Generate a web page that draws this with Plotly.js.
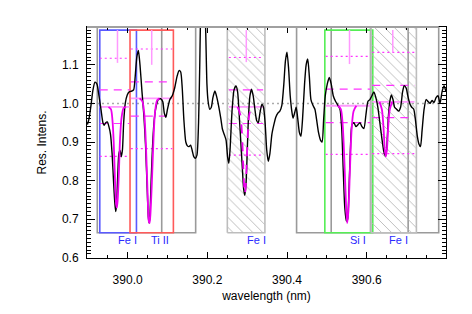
<!DOCTYPE html>
<html><head><meta charset="utf-8">
<script src="https://cdn.plot.ly/plotly-3.0.1.min.js"></script>
<style>html,body{margin:0;padding:0;background:#fff}</style>
</head><body><div id="chart" style="width:472px;height:314px"></div>
<script>
// ---------- observed spectrum ----------
const specWave = [389.899,389.903,389.908,389.913,389.918,389.923,389.928,389.933,389.938,389.941,389.945,389.949,389.953,389.957,389.961,389.965,389.968,389.970,389.972,389.975,389.978,389.981,389.984,389.987,389.990,389.994,389.999,390.004,390.010,390.015,390.019,390.023,390.027,390.031,390.036,390.041,390.045,390.049,390.052,390.054,390.056,390.059,390.063,390.067,390.071,390.077,390.083,390.088,390.092,390.096,390.100,390.106,390.112,390.118,390.124,390.129,390.133,390.137,390.141,390.146,390.150,390.154,390.158,390.162,390.166,390.170,390.174,390.178,390.181,390.184,390.190,390.195,390.199,390.202,390.206,390.210,390.214,390.219,390.224,390.229,390.234,390.238,390.243,390.247,390.251,390.254,390.257,390.262,390.267,390.272,390.276,390.280,390.284,390.288,390.291,390.294,390.297,390.300,390.303,390.307,390.311,390.315,390.320,390.324,390.328,390.332,390.337,390.341,390.345,390.349,390.353,390.357,390.362,390.367,390.372,390.377,390.382,390.387,390.392,390.396,390.400,390.404,390.408,390.412,390.415,390.419,390.423,390.427,390.431,390.435,390.439,390.444,390.448,390.452,390.456,390.460,390.465,390.470,390.474,390.479,390.484,390.488,390.492,390.496,390.501,390.506,390.511,390.516,390.522,390.528,390.533,390.537,390.541,390.545,390.549,390.552,390.555,390.559,390.563,390.568,390.573,390.578,390.583,390.588,390.593,390.598,390.603,390.608,390.613,390.618,390.623,390.628,390.633,390.638,390.643,390.647,390.650,390.654,390.658,390.662,390.666,390.670,390.675,390.680,390.685,390.690,390.694,390.699,390.703,390.708,390.713,390.718,390.722,390.727,390.731,390.735,390.739,390.744,390.749,390.754,390.759,390.764,390.769,390.774,390.779,390.784,390.789,390.794,390.799];
const specFlux = [0.945,0.960,0.995,1.035,1.055,1.050,1.020,0.985,0.950,0.943,0.950,0.952,0.940,0.920,0.870,0.790,0.740,0.720,0.735,0.810,0.870,0.878,0.862,0.880,0.950,1.000,1.022,1.030,1.032,1.035,1.070,1.120,1.137,1.100,1.030,0.965,0.890,0.780,0.705,0.690,0.710,0.800,0.900,0.960,0.990,1.010,1.012,1.005,0.975,0.964,0.985,1.010,1.020,1.040,1.070,1.085,1.082,1.040,0.960,0.900,0.890,0.888,0.892,0.878,0.862,0.858,0.866,0.950,1.100,1.250,1.300,1.220,1.050,1.005,0.985,0.990,1.015,1.032,1.015,0.990,0.960,0.933,0.918,0.905,0.860,0.845,0.880,0.980,1.035,1.045,1.030,0.970,0.900,0.830,0.780,0.762,0.790,0.870,0.960,1.020,1.037,1.020,0.980,0.955,0.950,0.975,0.998,0.990,0.950,0.880,0.850,0.870,0.920,0.945,0.965,0.975,0.980,0.995,1.050,1.110,1.133,1.090,1.020,0.980,0.962,0.975,0.990,0.960,0.925,0.915,0.960,1.050,1.100,1.115,1.070,1.010,0.995,0.985,0.960,0.925,0.905,0.900,0.960,1.020,1.050,1.067,1.050,1.020,1.005,0.995,0.985,0.940,0.830,0.730,0.695,0.700,0.760,0.880,0.945,0.950,0.940,0.945,0.950,0.940,0.935,0.970,1.005,1.010,1.020,1.030,1.015,0.990,0.950,0.910,0.875,0.863,0.880,0.960,1.005,1.022,1.010,0.990,0.985,0.980,0.990,1.030,1.046,1.040,1.020,1.000,0.990,0.985,0.960,0.915,0.895,0.888,0.930,0.985,1.010,1.005,1.000,1.008,1.002,1.015,1.020,1.000,1.030,1.046,1.030];

// ---------- lines ----------
const lineNames   = ['Fe I','Ti II','Fe I','Si I','Fe I'];
const labelX      = [389.9700,390.0530,390.2950,390.5530,390.6500];
const markerX     = [389.9745,390.0604,390.2978,390.5568,390.6654];
const markerBot   = [1.105,1.100,1.107,1.102,1.132];
const levelX0     = [389.930,390.008,390.254,390.497,390.614];
const levelX1     = [390.005,390.112,390.340,390.609,390.720];
const levelDotHi  = [1.117,1.141,1.119,1.122,1.132];
const levelDashHi = [1.035,1.056,1.035,1.037,1.047];
const levelCont   = [0.991,1.013,0.991,0.994,1.004];
const levelDashLo = [0.948,0.967,0.948,0.950,0.963];
const levelDotLo  = [0.863,0.883,0.866,0.868,0.870];

// synthetic profiles
const profWave = [
  [389.952,389.958,389.962,389.965,389.968,389.971,389.973,389.975,389.978,389.981,389.985,389.990,389.996],
  [390.030,390.037,390.042,390.046,390.050,390.053,390.055,390.057,390.061,390.065,390.069,390.074,390.080],
  [390.276,390.283,390.287,390.290,390.293,390.294,390.296,390.299,390.302,390.306,390.313],
  [390.528,390.535,390.540,390.544,390.548,390.551,390.554,390.558,390.562,390.567,390.574],
  [390.632,390.638,390.642,390.645,390.648,390.651,390.654,390.658,390.664]
];
const profFlux = [
  [0.991,0.985,0.955,0.900,0.810,0.740,0.730,0.750,0.820,0.910,0.965,0.988,0.991],
  [1.013,1.005,0.970,0.890,0.770,0.695,0.690,0.710,0.800,0.910,0.980,1.008,1.013],
  [0.991,0.970,0.920,0.840,0.775,0.765,0.780,0.850,0.930,0.975,0.991],
  [0.994,0.985,0.940,0.850,0.740,0.690,0.720,0.830,0.930,0.980,0.994],
  [1.004,0.985,0.940,0.885,0.862,0.885,0.940,0.985,1.004]
];
const profDash = ['solid','solid','dash','solid','solid'];

// boxes
const boxBottom = 0.665;
const boxTop = 1.19;
const yTop = 1.198;
const colorBoxX0 = [389.9301,390.0060,390.4949];
const colorBoxX1 = [390.0221,390.1148,390.6152];
const colorBoxCol = ['#5a5aff','#ff5a5a','#55ee55'];
const grayBoxX0 = [389.9238,390.4240];
const grayBoxX1 = [390.1707,390.7807];
const grayLineX = [390.0855,390.5109,390.6095,390.7040];
const hatchX0 = [390.2502,390.6110];
const hatchX1 = [390.3445,390.7247];

const traces = [];
const shapes = [];
const annotations = [];

for (let i=0;i<grayBoxX0.length;i++){
  shapes.push({type:'rect',xref:'x',yref:'y',x0:grayBoxX0[i],x1:grayBoxX1[i],y0:boxBottom,y1:yTop,
    line:{color:'#9a9a9a',width:1.6},fillcolor:'rgba(0,0,0,0)',layer:'below'});
}
for (let i=0;i<grayLineX.length;i++){
  shapes.push({type:'line',xref:'x',yref:'y',x0:grayLineX[i],x1:grayLineX[i],y0:boxBottom,y1:yTop,
    line:{color:'#9a9a9a',width:1.6},layer:'below'});
}
for (let i=0;i<hatchX0.length;i++){
  traces.push({x:[hatchX0[i],hatchX1[i],hatchX1[i],hatchX0[i],hatchX0[i]],
    y:[boxBottom,boxBottom,yTop,yTop,boxBottom],mode:'lines',fill:'toself',
    fillcolor:'rgba(0,0,0,0)',
    fillpattern:{shape:'\\',fgcolor:'#b4b4b4',bgcolor:'rgba(255,255,255,0)',size:7,solidity:0.12},
    line:{color:'#bdbdbd',width:1.6},hoverinfo:'skip',showlegend:false});
}
for (let i=0;i<colorBoxX0.length;i++){
  shapes.push({type:'rect',xref:'x',yref:'y',x0:colorBoxX0[i],x1:colorBoxX1[i],y0:boxBottom,y1:boxTop,
    line:{color:colorBoxCol[i],width:1.6},fillcolor:'rgba(0,0,0,0)',layer:'below'});
}
shapes.push({type:'line',xref:'paper',yref:'y',x0:0,x1:1,y0:1.0,y1:1.0,
  line:{color:'#aaaaaa',width:1.5,dash:'2px,3px'},layer:'below'});

for (let i=0;i<lineNames.length;i++){
  const lv = [[levelDotHi[i],'#ff33ff','2px,3px',1.2],[levelDashHi[i],'#ff33ff','8px,6px',1.2],
              [levelCont[i],'#ff99ff','solid',1.8],[levelDashLo[i],'#ff33ff','8px,6px',1.2],
              [levelDotLo[i],'#ff33ff','2px,3px',1.2]];
  lv.forEach(l=>{
    traces.push({x:[levelX0[i],levelX1[i]],y:[l[0],l[0]],mode:'lines',
      line:{color:l[1],width:l[3],dash:l[2]},hoverinfo:'skip',showlegend:false});
  });
  traces.push({x:[markerX[i],markerX[i]],y:[boxTop,markerBot[i]],mode:'lines',
    line:{color:'#ff99ff',width:1.5},hoverinfo:'skip',showlegend:false});
  annotations.push({x:labelX[i],y:0.645,xref:'x',yref:'y',text:lineNames[i],showarrow:false,
    xanchor:'left',yanchor:'middle',font:{family:'Liberation Sans, Arial, sans-serif',size:11,color:'#2a2aff'}});
}

traces.push({x:specWave,y:specFlux,mode:'lines',line:{color:'#000000',width:1.4,shape:'spline',smoothing:0.6},
  hoverinfo:'skip',showlegend:false,cliponaxis:true});

for (let i=0;i<profWave.length;i++){
  traces.push({x:profWave[i],y:profFlux[i],mode:'lines',
    line:{color:'#ee00ee',width:1.8,shape:'spline',smoothing:0.8,dash:profDash[i]},
    hoverinfo:'skip',showlegend:false});
}

shapes.push({type:'line',xref:'x',yref:'paper',x0:389.898,x1:390.7807,y0:1,y1:1,
  line:{color:'#a0a0a0',width:2},layer:'above'});

const fnt = {family:'Liberation Sans, Arial, Helvetica, sans-serif',size:12,color:'#000'};
const layout = {
  width:472,height:314,
  margin:{l:87,r:26,t:27,b:56,pad:0},
  paper_bgcolor:'#fff',plot_bgcolor:'#fff',
  showlegend:false,
  font:fnt,
  xaxis:{range:[389.898,390.799],tick0:390.0,dtick:0.2,tickformat:'.1f',
    ticks:'inside',ticklen:6,tickwidth:1,tickcolor:'#000',
    showline:true,linecolor:'#000',linewidth:1,mirror:'allticks',
    showgrid:false,zeroline:false,tickfont:fnt,ticklabelstandoff:11,
    minor:{ticks:'inside',tick0:390.0,dtick:0.05,ticklen:3,tickcolor:'#000',showgrid:false},
    title:{text:'wavelength (nm)',font:fnt,standoff:5}},
  yaxis:{range:[0.5995,1.198],tick0:0.6,dtick:0.1,tickformat:'.1f',
    ticks:'inside',ticklen:8,tickwidth:1,tickcolor:'#000',
    showline:true,linecolor:'#000',linewidth:1,mirror:'allticks',
    showgrid:false,zeroline:false,tickfont:fnt,ticklabelstandoff:5,
    minor:{ticks:'inside',tick0:0.6,dtick:0.01,ticklen:4,tickcolor:'#000',showgrid:false},
    title:{text:'Res. Intens.',font:fnt,standoff:12}},
  shapes:shapes,
  annotations:annotations
};
Plotly.newPlot('chart',traces,layout,{staticPlot:true,displayModeBar:false});
</script></body></html>
